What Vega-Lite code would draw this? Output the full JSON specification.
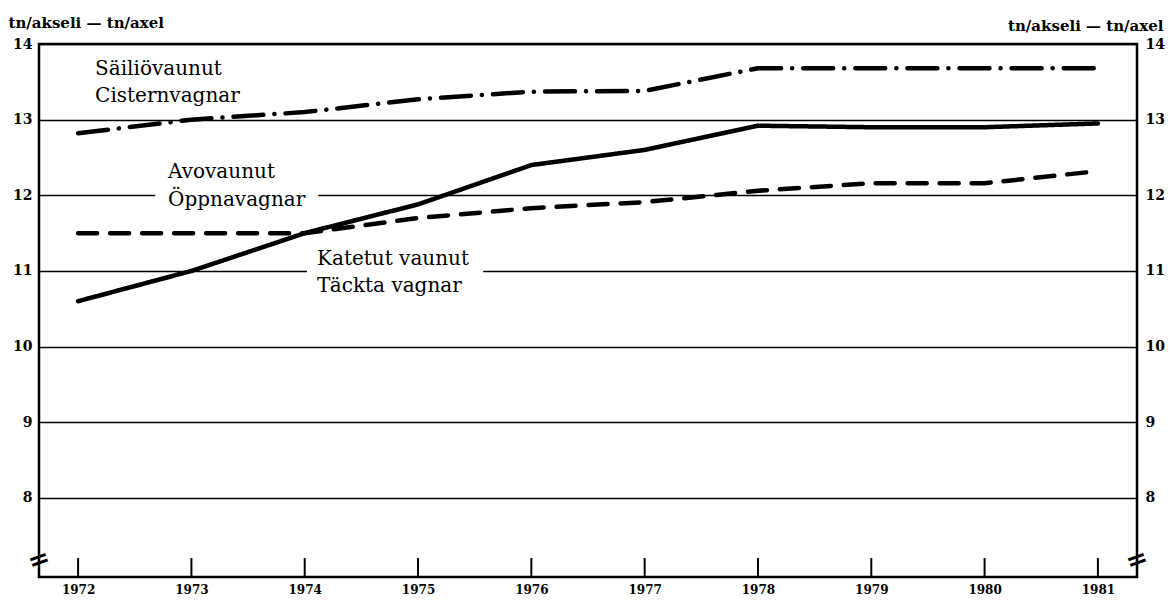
{
  "$schema": "https://vega.github.io/schema/vega-lite/v6.json",
  "width": 1098,
  "height": 533,
  "autosize": {"type": "none"},
  "padding": {"left": 39, "top": 44, "right": 33, "bottom": 25},
  "background": "white",
  "config": {
    "view": {"stroke": "black", "strokeWidth": 2.5},
    "font": "DejaVu Serif",
    "text": {"font": "DejaVu Serif"}
  },
  "datasets": {
    "series": [
      {"series": "Katetut vaunut", "year": 1972, "value": 10.6},
      {"series": "Katetut vaunut", "year": 1973, "value": 11.0},
      {"series": "Katetut vaunut", "year": 1974, "value": 11.5},
      {"series": "Katetut vaunut", "year": 1975, "value": 11.88},
      {"series": "Katetut vaunut", "year": 1976, "value": 12.4},
      {"series": "Katetut vaunut", "year": 1977, "value": 12.6},
      {"series": "Katetut vaunut", "year": 1978, "value": 12.92},
      {"series": "Katetut vaunut", "year": 1979, "value": 12.9},
      {"series": "Katetut vaunut", "year": 1980, "value": 12.9},
      {"series": "Katetut vaunut", "year": 1981, "value": 12.95},
      {"series": "Avovaunut", "year": 1972, "value": 11.5},
      {"series": "Avovaunut", "year": 1973, "value": 11.5},
      {"series": "Avovaunut", "year": 1974, "value": 11.5},
      {"series": "Avovaunut", "year": 1975, "value": 11.7},
      {"series": "Avovaunut", "year": 1976, "value": 11.83},
      {"series": "Avovaunut", "year": 1977, "value": 11.91},
      {"series": "Avovaunut", "year": 1978, "value": 12.06},
      {"series": "Avovaunut", "year": 1979, "value": 12.16},
      {"series": "Avovaunut", "year": 1980, "value": 12.16},
      {"series": "Avovaunut", "year": 1981, "value": 12.32},
      {"series": "Säiliövaunut", "year": 1972, "value": 12.82},
      {"series": "Säiliövaunut", "year": 1973, "value": 13.0},
      {"series": "Säiliövaunut", "year": 1974, "value": 13.1},
      {"series": "Säiliövaunut", "year": 1975, "value": 13.27},
      {"series": "Säiliövaunut", "year": 1976, "value": 13.37},
      {"series": "Säiliövaunut", "year": 1977, "value": 13.38},
      {"series": "Säiliövaunut", "year": 1978, "value": 13.68},
      {"series": "Säiliövaunut", "year": 1979, "value": 13.68},
      {"series": "Säiliövaunut", "year": 1980, "value": 13.68},
      {"series": "Säiliövaunut", "year": 1981, "value": 13.68}
    ],
    "labels": [
      {"text": "Säiliövaunut", "x": 1972.15, "y": 13.59},
      {"text": "Cisternvagnar", "x": 1972.15, "y": 13.233},
      {"text": "Avovaunut", "x": 1972.794, "y": 12.229},
      {"text": "Öppnavagnar", "x": 1972.794, "y": 11.853},
      {"text": "Katetut  vaunut", "x": 1974.109, "y": 11.079},
      {"text": "Täckta vagnar", "x": 1974.109, "y": 10.716}
    ],
    "gaps": [
      {"x1": 1972.68, "x2": 1974.12, "y1": 11.93, "y2": 12.07},
      {"x1": 1974.02, "x2": 1975.575, "y1": 10.93, "y2": 11.07}
    ],
    "breaks": [{"x": 1971.655}, {"x": 1981.345}]
  },
  "layer": [
    {
      "data": {"name": "gaps"},
      "mark": {"type": "rect", "fill": "white"},
      "encoding": {
        "x": {
          "field": "x1", "type": "quantitative",
          "scale": {"domain": [1971.655, 1981.345], "nice": false, "zero": false},
          "axis": {
            "orient": "bottom",
            "values": [1972, 1973, 1974, 1975, 1976, 1977, 1978, 1979, 1980, 1981],
            "format": "d", "title": null, "grid": false, "ticks": false, "domain": false,
            "labelFontSize": 12, "labelFontWeight": "bold", "labelColor": "black",
            "labelPadding": 7, "labelFont": "DejaVu Serif", "labelBaseline": "top"
          }
        },
        "x2": {"field": "x2"},
        "y": {
          "field": "y1", "type": "quantitative",
          "scale": {"domain": [6.955, 14], "nice": false, "zero": false},
          "axis": {
            "orient": "left",
            "values": [8, 9, 10, 11, 12, 13, 14],
            "grid": true, "gridColor": "black", "gridWidth": 1.6, "gridOpacity": 1,
            "ticks": false, "domain": false,
            "labelFontSize": 14, "labelFontWeight": "bold", "labelColor": "black",
            "labelPadding": 7, "labelFont": "DejaVu Serif",
            "title": "tn/akseli — tn/axel", "titleAngle": 0, "titleAlign": "left",
            "titleBaseline": "alphabetic", "titleX": -31, "titleY": -17,
            "titleFontSize": 15, "titleFontWeight": "bold", "titleColor": "black",
            "titleFont": "DejaVu Serif"
          }
        },
        "y2": {"field": "y2"}
      }
    },
    {
      "data": {"name": "series"},
      "mark": {"type": "line", "color": "black", "strokeWidth": 4.5, "strokeCap": "round"},
      "encoding": {
        "x": {"field": "year", "type": "quantitative", "scale": {"domain": [1971.655, 1981.345], "nice": false, "zero": false}},
        "y": {
          "field": "value", "type": "quantitative",
          "scale": {"domain": [6.955, 14], "nice": false, "zero": false},
          "axis": {
            "orient": "right",
            "values": [8, 9, 10, 11, 12, 13, 14],
            "grid": false, "ticks": false, "domain": false,
            "labelFontSize": 14, "labelFontWeight": "bold", "labelColor": "black",
            "labelPadding": 8, "labelFont": "DejaVu Serif",
            "title": "tn/akseli — tn/axel", "titleAngle": 0, "titleAlign": "right",
            "titleBaseline": "alphabetic", "titleX": 26, "titleY": -14,
            "titleFontSize": 15, "titleFontWeight": "bold", "titleColor": "black",
            "titleFont": "DejaVu Serif"
          }
        },
        "strokeDash": {
          "field": "series", "type": "nominal",
          "scale": {"domain": ["Katetut vaunut", "Avovaunut", "Säiliövaunut"], "range": [[1, 0], [19, 13], [30, 11, 0.1, 11]]},
          "legend": null
        },
        "detail": {"field": "series"}
      }
    },
    {
      "data": {"name": "series"},
      "transform": [{"filter": "datum.series == 'Säiliövaunut'"}],
      "mark": {"type": "rule", "color": "black", "strokeWidth": 2},
      "encoding": {
        "x": {"field": "year", "type": "quantitative", "scale": {"domain": [1971.655, 1981.345], "nice": false, "zero": false}},
        "y": {"datum": 6.955, "type": "quantitative", "scale": {"domain": [6.955, 14], "nice": false, "zero": false}, "axis": null},
        "y2": {"datum": 7.205}
      }
    },
    {
      "data": {"name": "labels"},
      "mark": {"type": "text", "align": "left", "baseline": "alphabetic", "fontSize": 20, "font": "DejaVu Serif", "color": "black"},
      "encoding": {
        "x": {"field": "x", "type": "quantitative", "scale": {"domain": [1971.655, 1981.345], "nice": false, "zero": false}},
        "y": {"field": "y", "type": "quantitative", "scale": {"domain": [6.955, 14], "nice": false, "zero": false}, "axis": null},
        "text": {"field": "text"}
      }
    },
    {
      "data": {"name": "breaks"},
      "mark": {"type": "text", "align": "center", "baseline": "middle", "fontSize": 26, "fontWeight": "bold", "angle": -20, "font": "DejaVu Sans", "color": "black"},
      "encoding": {
        "x": {"field": "x", "type": "quantitative", "scale": {"domain": [1971.655, 1981.345], "nice": false, "zero": false}},
        "y": {"datum": 7.18, "type": "quantitative", "scale": {"domain": [6.955, 14], "nice": false, "zero": false}, "axis": null},
        "text": {"value": "="}
      }
    }
  ],
  "resolve": {"axis": {"y": "independent"}}
}
